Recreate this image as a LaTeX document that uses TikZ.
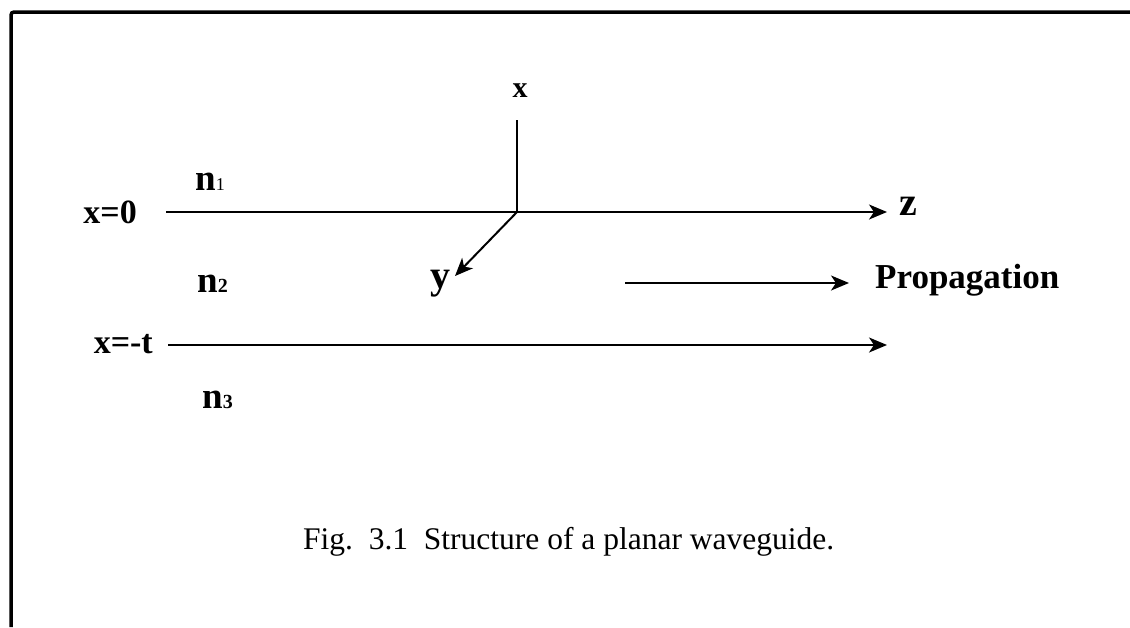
\documentclass[tikz,border=0pt]{standalone}
\usepackage{fontspec}
\setmainfont{Liberation Serif}
\usetikzlibrary{arrows.meta}
\begin{document}
\begin{tikzpicture}[x=1pt,y=1pt,
  axis/.style={line width=2pt},
  arr/.style={axis,-{Stealth[length=18pt,width=15pt,inset=5pt]}},
  lbl/.style={inner sep=0pt,font=\fontsize{34}{36}\selectfont\bfseries},
  nlbl/.style={inner sep=0pt,anchor=base west,font=\fontsize{37}{40}\selectfont\bfseries},
  captext/.style={inner sep=0pt,anchor=base west,font=\fontsize{31.5}{36}\selectfont}]
\useasboundingbox (0,0) rectangle (1130,-627);
\fill[white] (0,0) rectangle (1130,-627);
% frame
\draw[line width=3.5pt,rounded corners=3pt] (11,-627) -- (11,-12) -- (1130,-12);
% coordinates
\coordinate (O) at (517,-212);
\coordinate (a0) at (166,-212);
\coordinate (z0) at (887,-212);
\coordinate (xt) at (517,-120);
\coordinate (yt) at (455,-276);
\coordinate (at) at (168,-345);
\coordinate (zt) at (887,-345);
\coordinate (p0) at (625,-283);
\coordinate (p1) at (849,-283);
% lines
\draw[arr] (a0) -- (z0);
\draw[axis] (O) -- (xt);
\draw[arr] (O) -- (yt);
\draw[arr] (at) -- (zt);
\draw[arr] (p0) -- (p1);
% labels
\node[lbl,anchor=base,font=\fontsize{30}{32}\selectfont\bfseries] (lx) at (520,-97) {x};
\node[lbl,anchor=base,font=\fontsize{40}{40}\selectfont\bfseries] (lz) at (908,-215) {z};
\node[lbl,anchor=base,font=\fontsize{40}{40}\selectfont\bfseries] (ly) at (440,-288) {y};
\node[lbl,anchor=base east] (l0) at (137,-223) {x=0};
\node[lbl,anchor=base east] (lt) at (153,-353) {x=-t};
\node[nlbl] (n1) at (195,-190) {n{\fontsize{18}{20}\selectfont\mdseries 1}};
\node[nlbl] (n2) at (197,-292) {n{\fontsize{20}{20}\selectfont 2}};
\node[nlbl] (n3) at (202,-408) {n{\fontsize{20}{20}\selectfont 3}};
\node[lbl,anchor=base west,font=\fontsize{35}{36}\selectfont\bfseries] (prop) at (875,-288) {Propagation};
\node[captext] (caption) at (303,-549) {Fig.\ \ 3.1\ \ Structure of a planar waveguide.};
\end{tikzpicture}
\end{document}
